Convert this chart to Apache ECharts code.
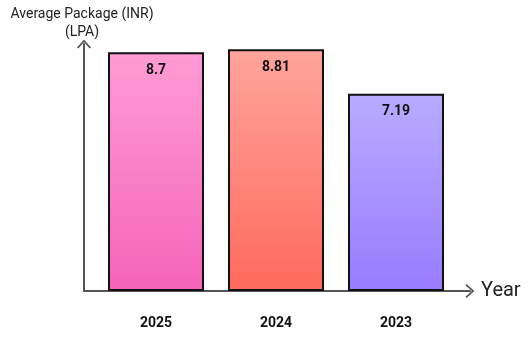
<!DOCTYPE html>
<html>
<head>
<meta charset="utf-8">
<script src="https://cdn.jsdelivr.net/npm/echarts@6/dist/echarts.min.js"></script>
<style>
  html, body { margin: 0; padding: 0; background: #fff; }
  #chart { width: 531px; height: 346px; }
</style>
</head>
<body>
<div id="chart"></div>
<script>
// 数据
const years = ['2025', '2024', '2023'];
const packages = [8.7, 8.81, 7.19];
const topColors = ['#ff9bd6', '#ffa49c', '#b9abff'];
const bottomColors = ['#f564b9', '#ff695c', '#987bff'];

// 开口箭头
const chevron = 'path://M0,8 L7,0 L14,8 L12.5,8.9 L7,2.5 L1.5,8.9 Z';

const chart = echarts.init(document.getElementById('chart'));

const option = {
    animation: false,
    textStyle: { fontFamily: 'Roboto' },
    grid: [
        { left: 96, right: 75, top: 44, bottom: 55 },
        { left: 84, right: 61, top: 44, bottom: 55 }
    ],
    xAxis: [
        {
            type: 'category',
            gridIndex: 0,
            data: years,
            axisLine: { show: false },
            axisTick: { show: false },
            axisLabel: {
                margin: 25,
                fontSize: 14,
                fontWeight: 'bold',
                color: '#111'
            }
        },
        {
            type: 'value',
            gridIndex: 1,
            name: 'Year',
            nameLocation: 'end',
            nameGap: 11,
            nameTextStyle: { fontSize: 20, color: '#222' },
            axisLine: {
                show: true,
                symbol: ['none', chevron],
                symbolSize: [14, 9],
                lineStyle: { color: '#555', width: 2 }
            },
            axisTick: { show: false },
            axisLabel: { show: false },
            splitLine: { show: false }
        }
    ],
    yAxis: [
        {
            type: 'value',
            gridIndex: 0,
            min: 0,
            max: 9,
            show: false
        },
        {
            type: 'value',
            gridIndex: 1,
            min: 0,
            max: 9,
            name: 'Average Package (INR)\n(LPA)',
            nameLocation: 'end',
            nameGap: 3,
            nameTextStyle: { fontSize: 14, color: '#222', lineHeight: 18, align: 'center', padding: [0, 4, 0, 0] },
            axisLine: {
                show: true,
                symbol: ['none', chevron],
                symbolSize: [14, 9],
                lineStyle: { color: '#555', width: 2 }
            },
            axisTick: { show: false },
            axisLabel: { show: false },
            splitLine: { show: false }
        }
    ],
    series: [{
        type: 'bar',
        xAxisIndex: 0,
        yAxisIndex: 0,
        barWidth: 96,
        data: packages.map(function(v, i) {
            return {
                value: v,
                itemStyle: {
                    color: new echarts.graphic.LinearGradient(0, 0, 0, 1, [
                        { offset: 0, color: topColors[i] },
                        { offset: 1, color: bottomColors[i] }
                    ])
                }
            };
        }),
        itemStyle: {
            borderColor: '#111',
            borderWidth: 2
        },
        label: {
            show: true,
            position: 'insideTop',
            distance: 11,
            fontSize: 14,
            fontWeight: 'bold',
            color: '#111'
        }
    }]
};

chart.setOption(option);
</script>
</body>
</html>
